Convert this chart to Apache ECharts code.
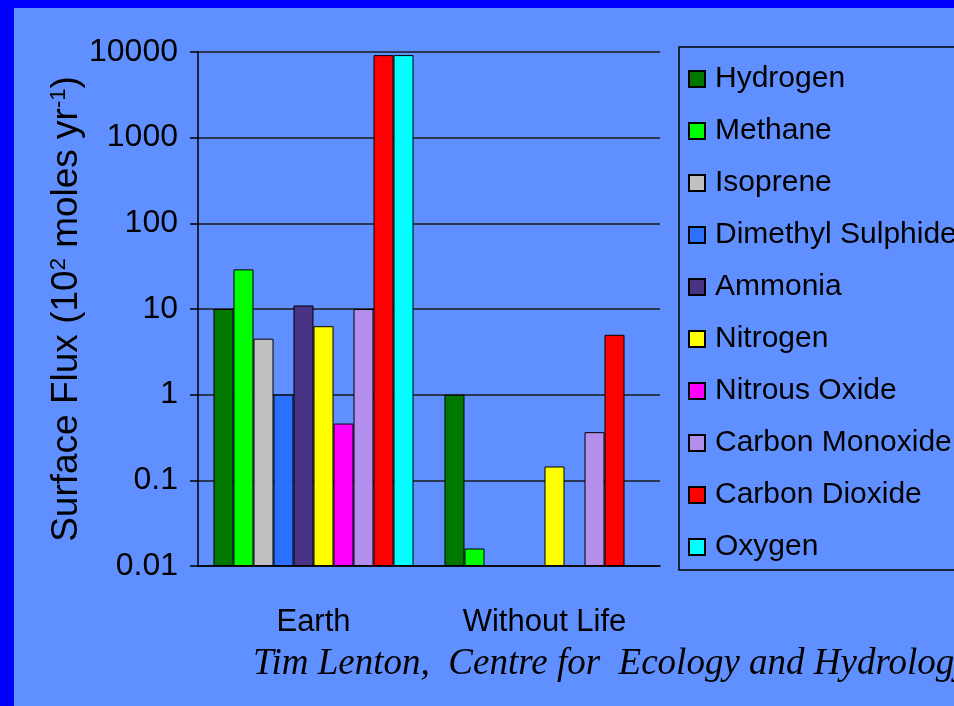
<!DOCTYPE html>
<html>
<head>
<meta charset="utf-8">
<script src="https://cdn.jsdelivr.net/npm/echarts@6/dist/echarts.min.js"></script>
<style>
html, body { margin: 0; padding: 0; background: #0000ff; }
#chart { width: 954px; height: 706px; }
</style>
</head>
<body>
<div id="chart"></div>
<script>
var categories = ['Earth', 'Without Life'];
var gases = ['Hydrogen', 'Methane', 'Isoprene', 'Dimethyl Sulphide', 'Ammonia',
  'Nitrogen', 'Nitrous Oxide', 'Carbon Monoxide', 'Carbon Dioxide', 'Oxygen'];

// surface flux per gas: [Earth, Without Life]
var hydrogen = [10, 1];
var methane = [29, 0.016];
var isoprene = [4.5, null];
var dimethylSulphide = [1, null];
var ammonia = [11, null];
var nitrogen = [6.3, 0.145];
var nitrousOxide = [0.46, null];
var carbonMonoxide = [10, 0.365];
var carbonDioxide = [9200, 5];
var oxygen = [9200, null];

var yTickLabels = ['0.01', '0.1', '1', '10', '100', '1000', '10000'];

var seriesValues = [hydrogen, methane, isoprene, dimethylSulphide, ammonia,
  nitrogen, nitrousOxide, carbonMonoxide, carbonDioxide, oxygen];
var colors = ['#007800', '#00ff00', '#c0c0c0', '#2c70ff', '#483385',
  '#ffff00', '#ff00ff', '#b38eea', '#ff0000', '#00ffff'];

var sansFont = "'Liberation Sans', Arial, sans-serif";

var chart = echarts.init(document.getElementById('chart'));

var series = [];
for (var i = 0; i < gases.length; i++) {
  series.push({
    name: gases[i],
    type: 'bar',
    data: seriesValues[i],
    barGap: 0,
    barCategoryGap: '13.4%',
    itemStyle: { color: colors[i], borderColor: '#000', borderWidth: 1 }
  });
}

var option = {
  backgroundColor: '#608fff',
  animation: false,
  grid: { left: 198, top: 52, width: 462, height: 514 },
  legend: {
    data: gases,
    orient: 'vertical',
    left: 679,
    top: 47,
    icon: 'rect',
    itemWidth: 16,
    itemHeight: 16,
    itemGap: 22,
    padding: [17, 40, 8, 9],
    borderColor: '#000',
    borderWidth: 1.5,
    textStyle: {
      fontFamily: sansFont,
      fontSize: 30,
      color: '#000',
      padding: [0, 0, 0, 5]
    }
  },
  xAxis: {
    type: 'category',
    data: categories,
    axisLine: { lineStyle: { color: '#000', width: 1.5 } },
    axisTick: { length: 12, lineStyle: { color: '#000', width: 1.5 } },
    axisLabel: { interval: 0, fontFamily: sansFont, fontSize: 31, color: '#000', margin: 41 }
  },
  yAxis: {
    type: 'log',
    logBase: 10,
    min: 0.01,
    max: 10000,
    startValue: 0.01,
    splitNumber: 6,
    name: '{n|Surface Flux (10}{s|2}{n| moles yr}{s|-1}{n|)}',
    nameLocation: 'middle',
    nameGap: 111,
    nameTextStyle: {
      rich: {
        n: { fontFamily: sansFont, fontSize: 37, color: '#000' },
        s: { fontFamily: sansFont, fontSize: 22, color: '#000', verticalAlign: 'top' }
      }
    },
    axisLine: { show: true, lineStyle: { color: '#000', width: 1.5 } },
    axisTick: { show: true, length: 8, lineStyle: { color: '#000', width: 1.5 } },
    splitLine: { show: true, lineStyle: { color: '#1a1a1a', width: 1.5 } },
    axisLabel: {
      fontFamily: sansFont,
      fontSize: 32,
      color: '#000',
      margin: 20,
      formatter: function (v) {
        return yTickLabels[Math.round(Math.log10(v)) + 2];
      }
    }
  },
  graphic: [
    { type: 'rect', left: 0, top: 0, shape: { width: 954, height: 8 }, style: { fill: '#0000ff' } },
    { type: 'rect', left: 0, top: 0, shape: { width: 14, height: 706 }, style: { fill: '#0000ff' } },
    {
      type: 'text',
      left: 253,
      top: 646,
      style: {
        text: 'Tim Lenton,  Centre for  Ecology and Hydrology',
        font: "italic 37px 'Liberation Serif', 'Times New Roman', serif",
        fill: '#000'
      }
    }
  ],
  series: series
};

chart.setOption(option);
</script>
</body>
</html>
